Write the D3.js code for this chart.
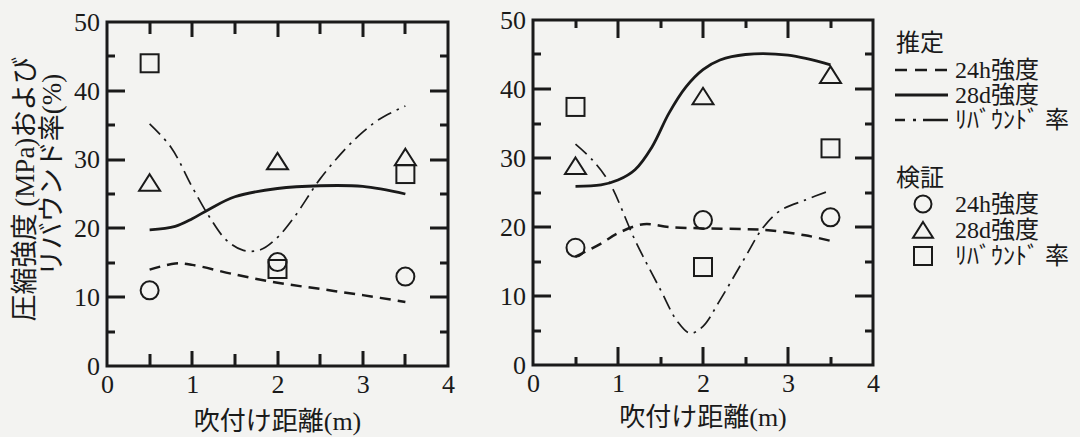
<!DOCTYPE html>
<html><head><meta charset="utf-8">
<script src="https://cdn.jsdelivr.net/npm/d3@7"></script>
<style>body{margin:0;background:#f3f3f1;} svg{display:block}</style>
</head><body><svg id="c" width="1080" height="437"></svg>
<script>
// ---------- data ----------
const xTickLabels = [0, 1, 2, 3, 4];
const xMinorTicks = [0.5, 1.5, 2.5, 3.5];
const yTickLabels = [0, 10, 20, 30, 40, 50];
const yMinorTicks = [5, 15, 25, 35, 45];
const measuredDistance = [0.5, 2, 3.5];

// Left panel - measured (検証)
const leftMeas24h = [11.0, 15.1, 13.0];
const leftMeas28d = [26.5, 29.6, 30.2];
const leftMeasRebound = [44.0, 14.1, 27.9];
// Left panel - estimated (推定)
const leftEst24hX = [0.5, 0.8, 1.0, 1.5, 2.0, 2.5, 3.0, 3.5];
const leftEst24hY = [14.0, 14.9, 14.7, 13.3, 12.1, 11.2, 10.3, 9.3];
const leftEst28dX = [0.5, 0.8, 1.0, 1.2, 1.5, 2.0, 2.5, 3.0, 3.5];
const leftEst28dY = [19.8, 20.3, 21.4, 22.8, 24.6, 25.8, 26.2, 26.1, 25.0];
const leftEstRebX = [0.5, 0.75, 1.0, 1.2, 1.4, 1.6, 1.8, 2.0, 2.2, 2.5, 2.8, 3.0, 3.2, 3.5];
const leftEstRebY = [35.2, 31.8, 26.0, 21.7, 18.3, 16.8, 16.9, 18.7, 21.7, 27.2, 31.6, 34.0, 35.9, 37.8];

// Right panel - measured
const rightMeas24h = [17.0, 21.0, 21.4];
const rightMeas28d = [28.7, 38.8, 41.9];
const rightMeasRebound = [37.4, 14.2, 31.4];
// Right panel - estimated
const rightEst24hX = [0.5, 0.8, 1.0, 1.3, 1.6, 2.0, 2.5, 2.8, 3.2, 3.5];
const rightEst24hY = [15.7, 17.6, 19.1, 20.4, 20.0, 19.8, 19.7, 19.5, 18.8, 18.0];
const rightEst28dX = [0.5, 0.8, 1.0, 1.2, 1.4, 1.6, 1.8, 2.0, 2.2, 2.5, 3.0, 3.5];
const rightEst28dY = [25.9, 26.1, 26.8, 28.3, 31.6, 36.5, 40.3, 42.8, 44.2, 45.0, 44.9, 43.5];
const rightEstRebX = [0.5, 0.7, 0.9, 1.2, 1.5, 1.7, 1.85, 2.0, 2.2, 2.5, 2.7, 2.9, 3.2, 3.5];
const rightEstRebY = [32.0, 29.7, 26.4, 18.1, 10.9, 6.3, 4.6, 5.6, 9.4, 15.7, 19.8, 22.3, 23.9, 25.3];

const legendEstLabels = ["24h強度", "28d強度", "ﾘﾊﾞｳﾝﾄﾞ 率"];
const legendMeasLabels = ["24h強度", "28d強度", "ﾘﾊﾞｳﾝﾄﾞ 率"];

// ---------- drawing ----------
const svg = d3.select("#c");
const ink = "#1a1a1a";
const serif = "'Liberation Serif','Noto Sans CJK JP',serif";
const cjk = "'Liberation Serif','Noto Sans CJK JP',sans-serif";

const styles = {
  e24: {w: 2.5, dash: "11,7"},
  e28: {w: 2.8, dash: null},
  reb: {w: 1.7, dash: "15,6,2.5,6"}
};

function trianglePath(s) { return `M0,${-9.5*s}L${10.5*s},${7*s}L${-10.5*s},${7*s}Z`; }

function panel(cfg) {
  const x = d3.scaleLinear().domain([0, 4]).range([cfg.x0, cfg.x1]);
  const y = d3.scaleLinear().domain([0, 50]).range([cfg.y0, cfg.y1]);
  const g = svg.append("g");

  // frame + inward ticks (major / minor) in one path
  const p = d3.path();
  p.moveTo(cfg.x0, cfg.y1); p.lineTo(cfg.x1, cfg.y1); p.lineTo(cfg.x1, cfg.y0); p.lineTo(cfg.x0, cfg.y0); p.closePath();
  const xt = xTickLabels.filter(v => v > 0 && v < 4).map(v => [v, cfg.xMaj])
    .concat(xMinorTicks.map(v => [v, cfg.xMin]));
  const yt = yTickLabels.filter(v => v > 0 && v < 50).map(v => [v, cfg.yMaj])
    .concat(yMinorTicks.map(v => [v, cfg.yMin]));
  xt.forEach(([v, len]) => {
    const px = Math.round(x(v));
    p.moveTo(px, cfg.y0); p.lineTo(px, cfg.y0 - len);
    p.moveTo(px, cfg.y1); p.lineTo(px, cfg.y1 + len);
  });
  yt.forEach(([v, len]) => {
    const py = Math.round(y(v));
    p.moveTo(cfg.x0, py); p.lineTo(cfg.x0 + len, py);
    p.moveTo(cfg.x1, py); p.lineTo(cfg.x1 - len, py);
  });
  g.append("path").attr("class", "frame").attr("d", p.toString())
    .style("fill", "none").style("stroke", ink).style("stroke-width", "3px");

  // tick labels via axes
  const ax = g.append("g").attr("transform", `translate(0,${cfg.y0})`)
    .call(d3.axisBottom(x).tickValues(xTickLabels).tickSize(0).tickPadding(9).tickFormat(d3.format("d")));
  const ay = g.append("g").attr("transform", `translate(${cfg.x0},0)`)
    .call(d3.axisLeft(y).tickValues(yTickLabels).tickSize(0).tickPadding(7).tickFormat(d3.format("d")));
  [ax, ay].forEach(a => {
    a.select(".domain").remove();
    a.selectAll(".tick line").remove();
    a.attr("font-family", null).attr("font-size", null);
    a.selectAll(".tick text").style("fill", ink).style("font-family", serif).style("font-size", "26px");
  });

  const line = d3.line().x(d => x(d[0])).y(d => y(d[1])).curve(d3.curveCatmullRom.alpha(0.5));
  [[cfg.e24X, cfg.e24Y, styles.e24], [cfg.e28X, cfg.e28Y, styles.e28], [cfg.rebX, cfg.rebY, styles.reb]].forEach(([xs, ys, st]) => {
    g.append("path").datum(xs.map((v, i) => [v, ys[i]])).attr("d", line)
      .attr("fill", "none").attr("stroke", ink).attr("stroke-width", st.w)
      .attr("stroke-dasharray", st.dash).attr("stroke-linecap", "butt");
  });

  const sw = 2;
  measuredDistance.forEach((d, i) => {
    g.append("circle").attr("cx", x(d)).attr("cy", y(cfg.m24[i])).attr("r", 9)
      .attr("fill", "none").attr("stroke", ink).attr("stroke-width", sw);
    g.append("path").attr("d", trianglePath(1)).attr("transform", `translate(${x(d)},${y(cfg.m28[i])})`)
      .attr("fill", "none").attr("stroke", ink).attr("stroke-width", sw);
    g.append("rect").attr("x", x(d) - 9).attr("y", y(cfg.mReb[i]) - 9).attr("width", 18).attr("height", 18)
      .attr("fill", "none").attr("stroke", ink).attr("stroke-width", sw);
  });

  g.append("text").attr("x", (cfg.x0 + cfg.x1) / 2).attr("y", cfg.titleY).attr("text-anchor", "middle")
    .style("font-family", cjk).style("font-size", "26px").attr("fill", ink).text("吹付け距離(m)");
}

panel({x0: 107, x1: 448, y0: 366, y1: 22, xMaj: 15, xMin: 12, yMaj: 18, yMin: 8, titleY: 430,
  e24X: leftEst24hX, e24Y: leftEst24hY, e28X: leftEst28dX, e28Y: leftEst28dY, rebX: leftEstRebX, rebY: leftEstRebY,
  m24: leftMeas24h, m28: leftMeas28d, mReb: leftMeasRebound});
panel({x0: 533, x1: 873, y0: 365, y1: 20, xMaj: 18, xMin: 8, yMaj: 18, yMin: 8, titleY: 426,
  e24X: rightEst24hX, e24Y: rightEst24hY, e28X: rightEst28dX, e28Y: rightEst28dY, rebX: rightEstRebX, rebY: rightEstRebY,
  m24: rightMeas24h, m28: rightMeas28d, mReb: rightMeasRebound});

// y-axis title (rotated, two lines)
svg.append("text").attr("transform", "translate(25,189) rotate(-90)").attr("text-anchor", "middle")
  .attr("dominant-baseline", "central").style("font-family", cjk).style("font-size", "27px").attr("fill", ink)
  .text("圧縮強度 (MPa)および");
svg.append("text").attr("transform", "translate(52,175) rotate(-90)").attr("text-anchor", "middle")
  .attr("dominant-baseline", "central").style("font-family", cjk).style("font-size", "27px").attr("fill", ink)
  .text("リバウンド率(%)");

// legend
const lg = svg.append("g").style("font-family", cjk).style("font-size", "24px").attr("fill", ink);
lg.append("text").attr("x", 896).attr("y", 43).attr("dominant-baseline", "central").text("推定");
const estRowY = [70, 95, 120];
const legendDash = ["12,8", null, "10,8,3,7,25"];
const legendW = [2.6, 2.8, 2.4];
estRowY.forEach((yy, i) => {
  lg.append("path").attr("d", `M895,${yy}H948`).attr("fill", "none").attr("stroke", ink)
    .attr("stroke-width", legendW[i]).attr("stroke-dasharray", legendDash[i]);
  lg.append("text").attr("x", 955).attr("y", yy).attr("dominant-baseline", "central").text(legendEstLabels[i]);
});
lg.append("text").attr("x", 896).attr("y", 178).attr("dominant-baseline", "central").text("検証");
const measRowY = [204, 230, 256];
lg.append("circle").attr("cx", 923).attr("cy", measRowY[0]).attr("r", 8.5).attr("fill", "none").attr("stroke", ink).attr("stroke-width", 2);
lg.append("path").attr("d", trianglePath(0.95)).attr("transform", `translate(923,${measRowY[1] + 1})`).attr("fill", "none").attr("stroke", ink).attr("stroke-width", 2);
lg.append("rect").attr("x", 914).attr("y", measRowY[2] - 9).attr("width", 18).attr("height", 18).attr("fill", "none").attr("stroke", ink).attr("stroke-width", 2);
measRowY.forEach((yy, i) => {
  lg.append("text").attr("x", 955).attr("y", yy).attr("dominant-baseline", "central").text(legendMeasLabels[i]);
});
</script></body></html>
